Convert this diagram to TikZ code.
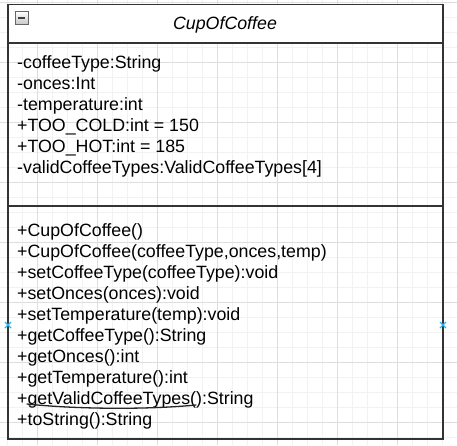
\documentclass[tikz,border=0pt]{standalone}
\usepackage{fontspec}
\setmainfont{Liberation Sans}
\definecolor{gridminor}{HTML}{F2F2F2}
\definecolor{gridmajor}{HTML}{DEDEDE}
\definecolor{boxline}{HTML}{333333}
\definecolor{markblue}{HTML}{29B6F2}
\tikzset{
  member/.style={anchor=base west, inner sep=0pt, font=\fontsize{17.8}{21}\selectfont, text=black},
  titletext/.style={anchor=base, inner sep=0pt, font=\fontsize{17.8}{21}\selectfont\itshape, text=black},
  boxstroke/.style={draw=boxline, line width=1.6pt},
  marker/.style={draw=markblue, line width=1.3pt},
}
\begin{document}
\begin{tikzpicture}[x=1pt,y=-1pt]
\useasboundingbox (0,0) rectangle (457,445);
\fill[white] (0,0) rectangle (457,445);
% grid
\foreach \gx in {7,22,...,457} \draw[gridminor, line width=0.8pt] (\gx,0) -- (\gx,445);
\foreach \gy in {2,17,...,445} \draw[gridminor, line width=0.8pt] (0,\gy) -- (457,\gy);
\foreach \gx in {37,97,...,457} \draw[gridmajor, line width=0.8pt] (\gx,0) -- (\gx,445);
\foreach \gy in {2,62,...,445} \draw[gridmajor, line width=0.8pt] (0,\gy) -- (457,\gy);
% class box
\fill[white] (8,4.5) rectangle (443,43);
\draw[boxstroke] (8,4.5) rectangle (443,439);
\draw[boxstroke] (8,43) -- (443,43);
\draw[boxstroke] (8,206) -- (443,206);
% collapse icon
\shade[top color=white, bottom color=gray!45, draw=gray!80!black, line width=0.8pt] (15,11.5) rectangle (28,24.5);
\draw[black!75, line width=1.6pt] (18,18) -- (25,18);
% title
\node[titletext] (title) at (225,29) {CupOfCoffee};
% attributes
\node[member] (a1) at (17,68) {-coffeeType:String};
\node[member] (a2) at (17,89) {-onces:Int};
\node[member] (a3) at (17,110) {-temperature:int};
\node[member] (a4) at (17,131) {+TOO\_COLD:int = 150};
\node[member] (a5) at (17,152) {+TOO\_HOT:int = 185};
\node[member] (a6) at (17,173) {-validCoffeeTypes:ValidCoffeeTypes[4]};
% methods
\node[member] (m1) at (17,236) {+CupOfCoffee()};
\node[member] (m2) at (17,257) {+CupOfCoffee(coffeeType,onces,temp)};
\node[member] (m3) at (17,278) {+setCoffeeType(coffeeType):void};
\node[member] (m4) at (17,299) {+setOnces(onces):void};
\node[member] (m5) at (17,320) {+setTemperature(temp):void};
\node[member] (m6) at (17,341) {+getCoffeeType():String};
\node[member] (m7) at (17,362) {+getOnces():int};
\node[member] (m8) at (17,383) {+getTemperature():int};
\node[member] (m9) at (17,404) {+getValidCoffeeTypes():String};
\node[member] (m10) at (17,425) {+toString():String};
% hand-drawn underline
\draw[black!85, line width=1.3pt, line cap=round] (27,404) .. controls (80,409.5) and (150,409.5) .. (196,405);
% connection markers
\draw[marker] (5,322) -- (11,328) (5,328) -- (11,322);
\draw[marker] (440,322) -- (446,328) (440,328) -- (446,322);
\end{tikzpicture}
\end{document}
